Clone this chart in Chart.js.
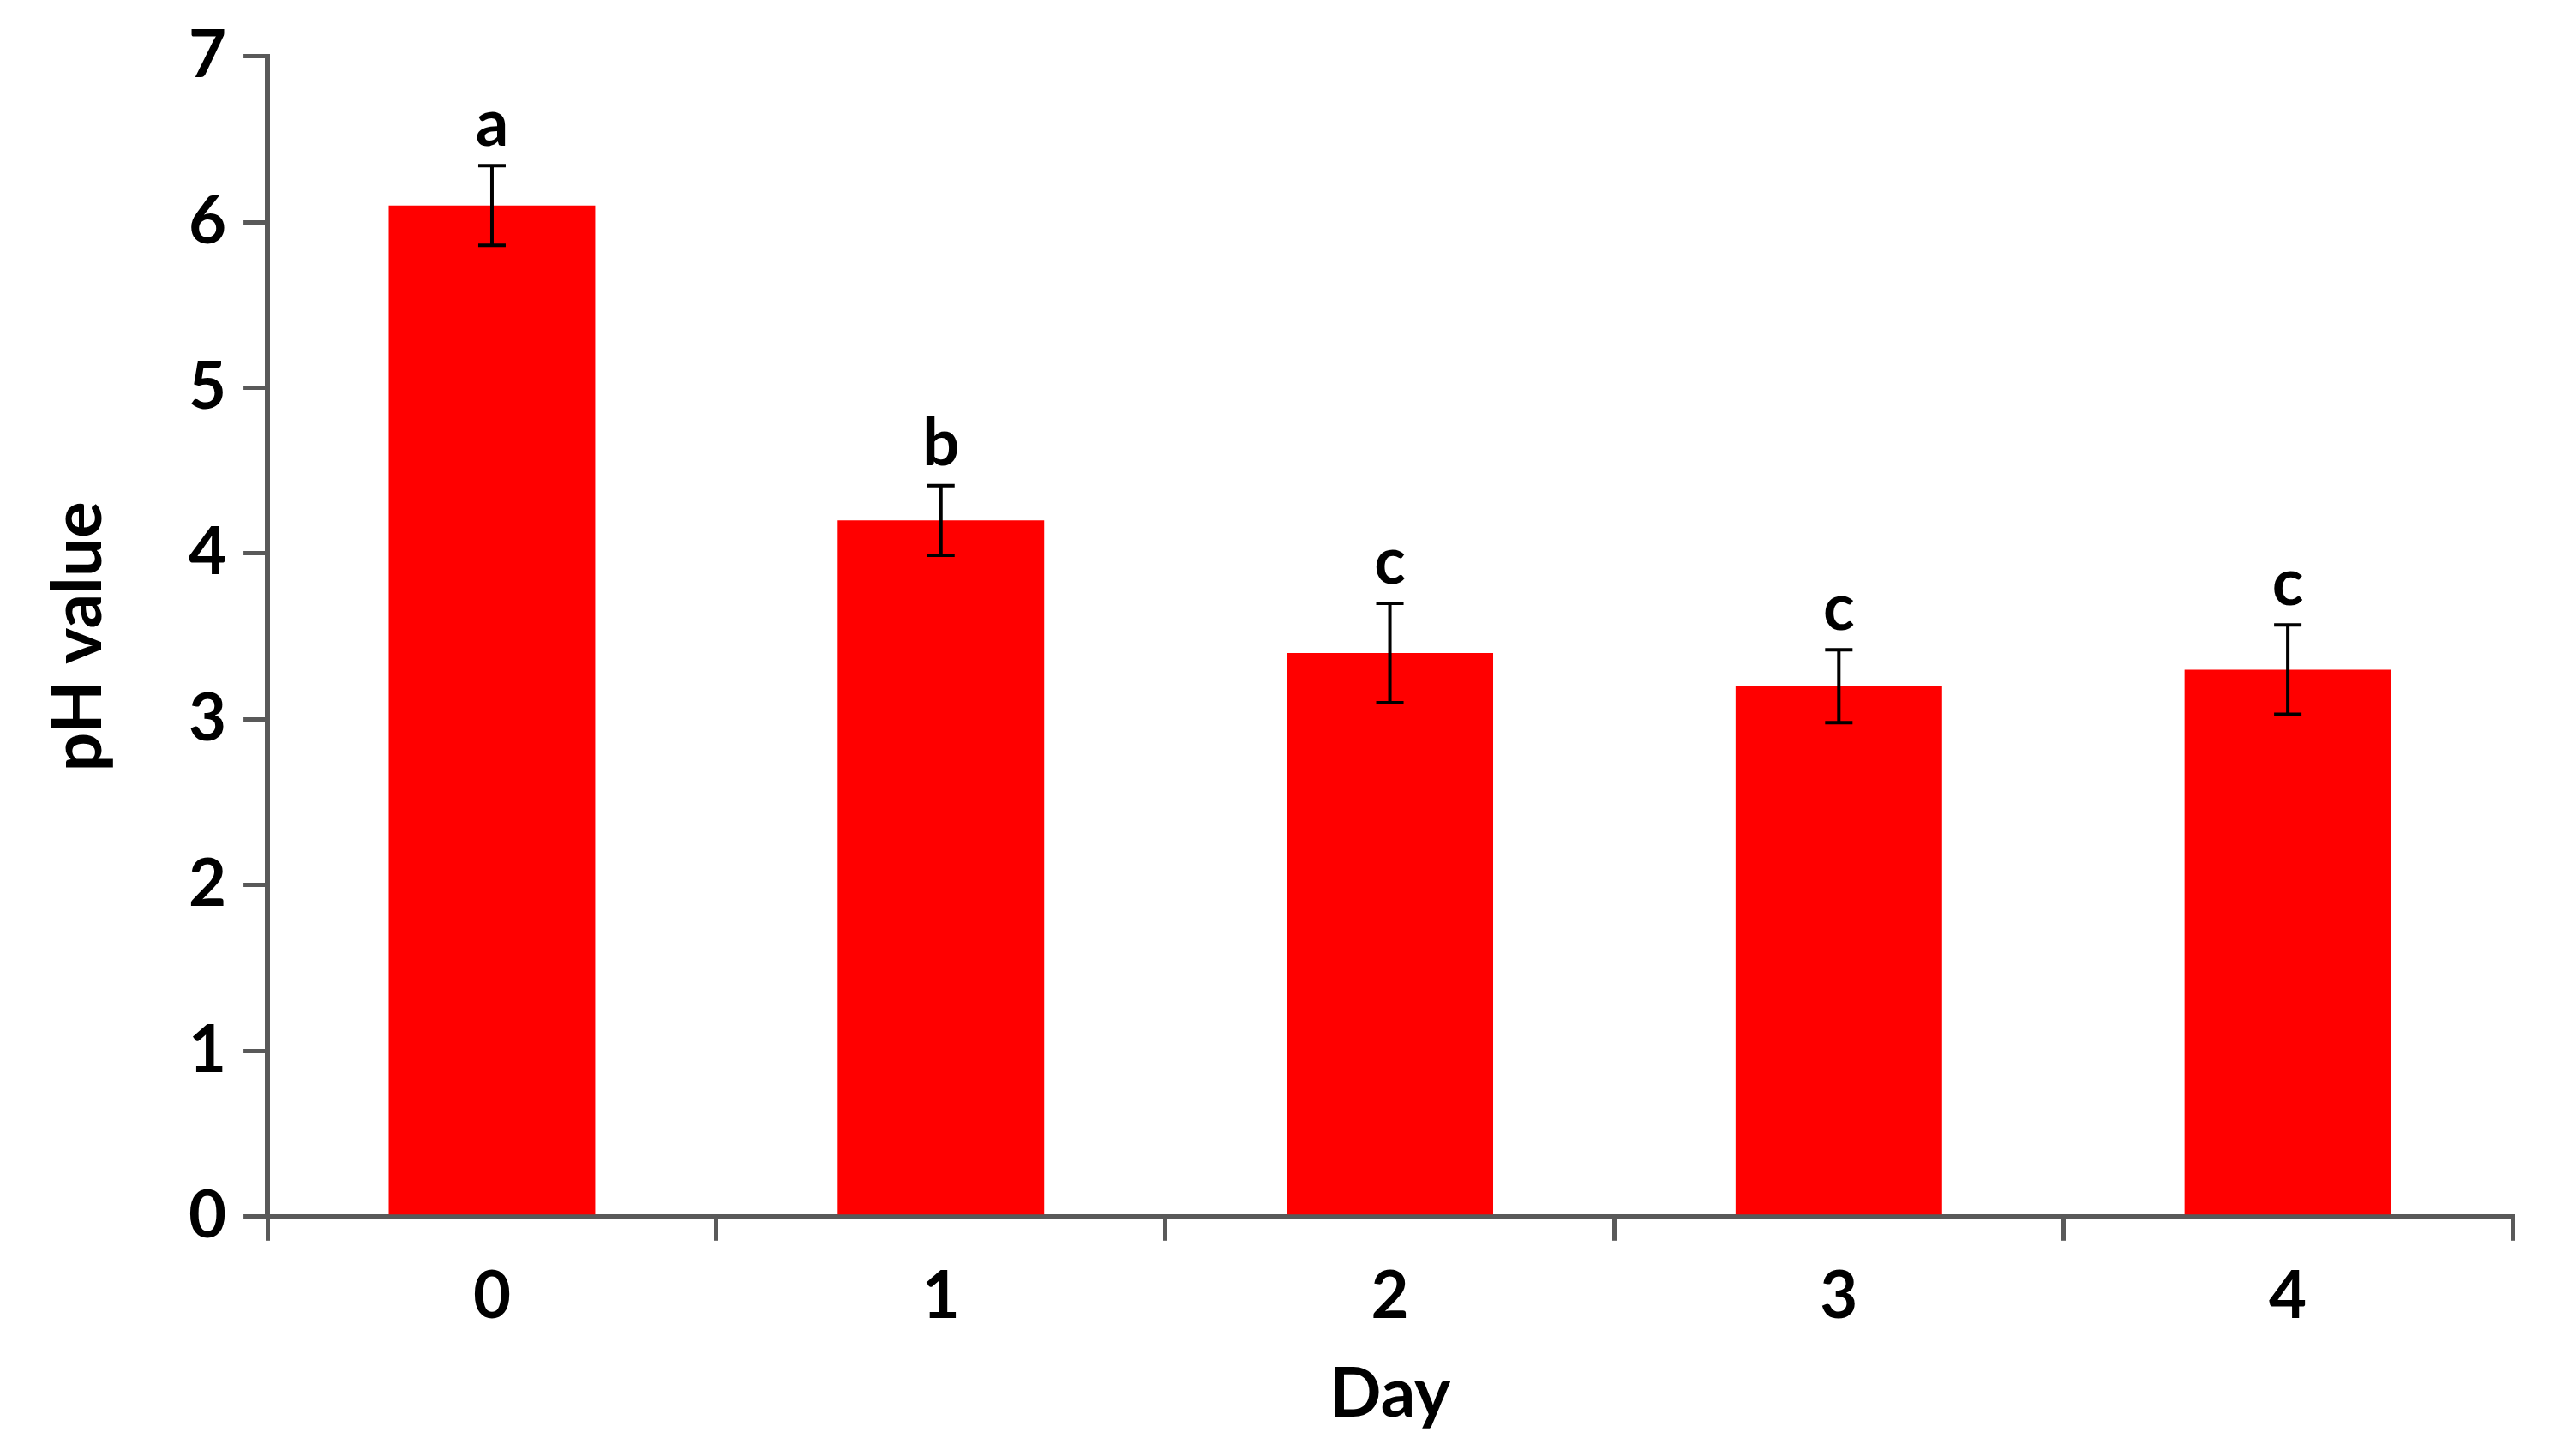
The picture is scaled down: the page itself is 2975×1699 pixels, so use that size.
<!DOCTYPE html>
<html><head><meta charset="utf-8">
<script src="https://cdn.jsdelivr.net/npm/chart.js@4"></script>
<style>html,body{margin:0;padding:0;background:#fff}#w{width:2975px;height:1699px}</style>
</head><body><div id="w"><canvas id="c"></canvas></div>
<script>
const categories = ["0","1","2","3","4"];
const phValues = [6.1, 4.2, 3.4, 3.2, 3.3];
const errors = [0.24, 0.21, 0.3, 0.22, 0.27];
const letters = ["a","b","c","c","c"];
const FONT = "Lato";
const errPlugin = {
  id:'err',
  afterDatasetsDraw(chart){
    const ctx=chart.ctx, x=chart.scales.x, y=chart.scales.y;
    ctx.save();
    ctx.strokeStyle='#000'; ctx.lineWidth=4;
    ctx.fillStyle='#000'; ctx.font='bold 76px '+FONT;
    ctx.textAlign='center'; ctx.textBaseline='bottom';
    phValues.forEach((v,i)=>{
      const cx=x.getPixelForValue(i);
      const yt=y.getPixelForValue(v+errors[i]), yb=y.getPixelForValue(v-errors[i]);
      ctx.beginPath();
      ctx.moveTo(cx,yt);ctx.lineTo(cx,yb);
      ctx.moveTo(cx-16,yt);ctx.lineTo(cx+16,yt);
      ctx.moveTo(cx-16,yb);ctx.lineTo(cx+16,yb);
      ctx.stroke();
      ctx.fillText(letters[i],cx,yt-10);
    });
    ctx.restore();
  }
};
new Chart(document.getElementById('c'),{
  type:'bar',
  data:{labels:categories,datasets:[{data:phValues,backgroundColor:'#ff0000',barPercentage:0.46,categoryPercentage:1}]},
  options:{
    responsive:true,maintainAspectRatio:false,animation:false,devicePixelRatio:1,
    layout:{padding:{left:40,right:44,top:60,bottom:20}},
    plugins:{legend:{display:false},tooltip:{enabled:false}},
    scales:{
      x:{grid:{display:true,drawOnChartArea:false,offset:true,tickLength:28,color:'#595959',lineWidth:5},
         border:{color:'#595959',width:6},
         ticks:{color:'#000',font:{family:FONT,size:76,weight:'bold'},padding:20},
         title:{display:true,text:'Day',color:'#000',font:{family:FONT,size:80,weight:'bold'},padding:{top:0}}},
      y:{min:0,max:7,grid:{display:true,drawOnChartArea:false,tickLength:28,color:'#595959',lineWidth:5},
         border:{color:'#595959',width:6},
         ticks:{stepSize:1,color:'#000',font:{family:FONT,size:76,weight:'bold'},padding:20},
         title:{display:true,text:'pH value',color:'#000',font:{family:FONT,size:80,weight:'bold'},padding:{bottom:60}}}
    }
  },
  plugins:[errPlugin]
});
</script></body></html>
